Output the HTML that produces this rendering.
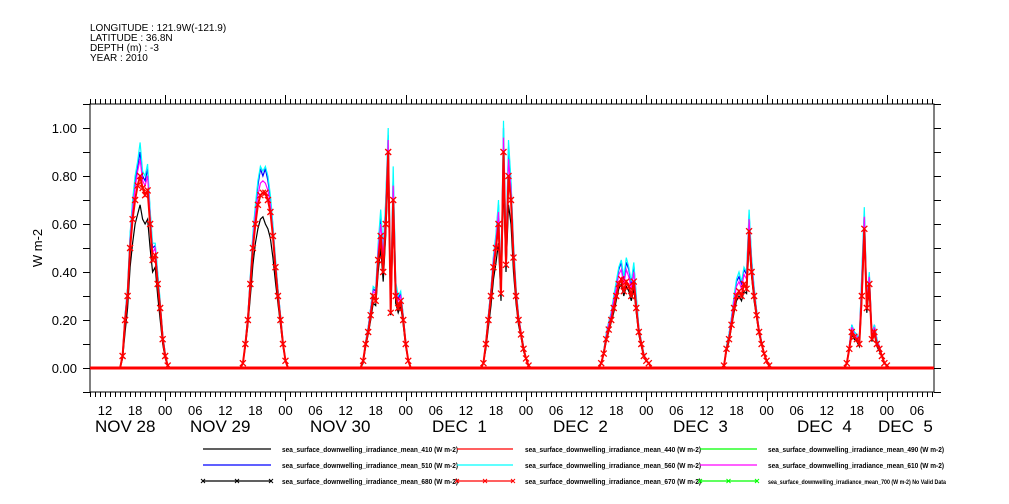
<!DOCTYPE html>
<html><head><meta charset="utf-8"><style>
body{margin:0;background:#fff;}
svg{display:block;font-family:"Liberation Sans",sans-serif;}
</style></head><body>
<svg id="chart" width="1009" height="504" viewBox="0 0 1009 504">
<g font-size="10" fill="#000">
<text x="90" y="31">LONGITUDE : 121.9W(-121.9)</text>
<text x="90" y="41">LATITUDE : 36.8N</text>
<text x="90" y="51">DEPTH (m) : -3</text>
<text x="90" y="61">YEAR : 2010</text>
</g>
<text x="0" y="0" transform="translate(42,248) rotate(-90)" text-anchor="middle" font-size="13">W m-2</text>
<g id="axes"></g>
<g id="series"></g>
<g id="legend"></g>
</svg>
<script>
const yTicks=[0,0.2,0.4,0.6,0.8,1.0];
const yTickLabels=["0.00","0.20","0.40","0.60","0.80","1.00"];
const dayLabels=["NOV 28","NOV 29","NOV 30","DEC  1","DEC  2","DEC  3","DEC  4","DEC  5"];
const dayLabelX=[95,190,310,432,553,673,797,878];
const dayWindowStartHour=14.5;
const axisStartHour=9;
const axisSpanHours=168.4;
const red670=[
0,0,0.05,0.2,0.3,0.5,0.62,0.7,0.76,0.8,0.75,0.72,0.74,0.6,0.45,0.47,0.35,0.25,0.12,0.05,0.01,0,0,
0,0,0.02,0.1,0.2,0.35,0.5,0.6,0.68,0.72,0.73,0.73,0.7,0.65,0.55,0.42,0.3,0.2,0.1,0.03,0,0,0,
0,0,0.03,0.1,0.15,0.22,0.3,0.28,0.45,0.55,0.4,0.6,0.9,0.23,0.7,0.3,0.25,0.28,0.2,0.1,0.03,0,0,
0,0,0.02,0.1,0.2,0.3,0.42,0.5,0.6,0.31,0.9,0.43,0.8,0.7,0.46,0.3,0.2,0.14,0.08,0.04,0.01,0,0,
0,0.02,0.06,0.12,0.16,0.2,0.25,0.3,0.35,0.37,0.32,0.36,0.34,0.3,0.36,0.25,0.15,0.1,0.05,0.03,0.02,0,0,
0,0,0.01,0.08,0.12,0.18,0.25,0.3,0.32,0.3,0.35,0.33,0.57,0.4,0.3,0.22,0.15,0.1,0.06,0.03,0.01,0,0,
0,0,0,0.02,0.08,0.15,0.13,0.12,0.1,0.3,0.58,0.25,0.35,0.12,0.15,0.1,0.08,0.05,0.02,0.01,0,0,0];
const cyan560=[
0,0,0.06,0.22,0.34,0.56,0.7,0.8,0.86,0.94,0.82,0.8,0.85,0.66,0.52,0.52,0.4,0.28,0.14,0.06,0.01,0,0,
0,0,0.02,0.11,0.22,0.39,0.56,0.68,0.78,0.84,0.82,0.84,0.8,0.72,0.6,0.46,0.33,0.22,0.11,0.03,0,0,0,
0,0,0.03,0.11,0.17,0.25,0.34,0.33,0.52,0.66,0.5,0.7,1.0,0.3,0.84,0.36,0.3,0.32,0.22,0.11,0.03,0,0,
0,0,0.02,0.11,0.22,0.33,0.47,0.56,0.7,0.36,1.03,0.5,0.95,0.78,0.52,0.34,0.22,0.15,0.09,0.04,0.01,0,0,
0,0.02,0.07,0.14,0.19,0.23,0.3,0.36,0.42,0.45,0.38,0.46,0.42,0.36,0.44,0.3,0.17,0.11,0.06,0.03,0.02,0,0,
0,0,0.01,0.09,0.14,0.21,0.3,0.37,0.4,0.36,0.42,0.4,0.66,0.46,0.34,0.24,0.16,0.11,0.06,0.03,0.01,0,0,
0,0,0,0.02,0.09,0.18,0.15,0.14,0.12,0.4,0.67,0.3,0.4,0.14,0.18,0.12,0.09,0.05,0.02,0.01,0,0,0];
const magenta610=[
0,0,0.05,0.21,0.32,0.53,0.66,0.75,0.82,0.87,0.78,0.76,0.8,0.63,0.48,0.5,0.37,0.26,0.13,0.05,0.01,0,0,
0,0,0.02,0.1,0.21,0.37,0.53,0.64,0.72,0.77,0.78,0.77,0.74,0.68,0.57,0.44,0.31,0.21,0.1,0.03,0,0,0,
0,0,0.03,0.1,0.16,0.24,0.32,0.31,0.49,0.6,0.46,0.65,0.95,0.27,0.76,0.33,0.28,0.3,0.21,0.1,0.03,0,0,
0,0,0.02,0.1,0.21,0.32,0.45,0.53,0.65,0.34,0.96,0.47,0.87,0.74,0.49,0.32,0.21,0.15,0.08,0.04,0.01,0,0,
0,0.02,0.06,0.13,0.18,0.22,0.28,0.33,0.39,0.41,0.35,0.41,0.38,0.33,0.4,0.27,0.16,0.1,0.05,0.03,0.02,0,0,
0,0,0.01,0.08,0.13,0.2,0.28,0.34,0.36,0.33,0.39,0.37,0.62,0.43,0.32,0.23,0.16,0.1,0.06,0.03,0.01,0,0,
0,0,0,0.02,0.09,0.17,0.14,0.13,0.11,0.36,0.63,0.28,0.38,0.13,0.17,0.11,0.09,0.05,0.02,0.01,0,0,0];
const blue510=[
0,0,0.06,0.22,0.33,0.55,0.69,0.78,0.84,0.9,0.8,0.78,0.83,0.65,0.5,0.51,0.39,0.27,0.14,0.06,0.01,0,0,
0,0,0.02,0.11,0.22,0.38,0.55,0.67,0.76,0.83,0.8,0.83,0.78,0.71,0.59,0.45,0.33,0.22,0.11,0.03,0,0,0,
0,0,0.03,0.11,0.17,0.25,0.33,0.32,0.5,0.63,0.48,0.68,0.97,0.29,0.8,0.35,0.29,0.31,0.22,0.11,0.03,0,0,
0,0,0.02,0.11,0.22,0.33,0.46,0.55,0.68,0.35,1.0,0.48,0.92,0.77,0.51,0.33,0.22,0.15,0.09,0.04,0.01,0,0,
0,0.02,0.07,0.14,0.19,0.23,0.29,0.35,0.41,0.44,0.37,0.44,0.41,0.35,0.43,0.29,0.17,0.11,0.06,0.03,0.02,0,0,
0,0,0.01,0.09,0.14,0.21,0.29,0.36,0.38,0.35,0.41,0.39,0.64,0.45,0.33,0.24,0.16,0.11,0.06,0.03,0.01,0,0,
0,0,0,0.02,0.09,0.18,0.15,0.14,0.12,0.38,0.65,0.29,0.39,0.14,0.18,0.12,0.09,0.05,0.02,0.01,0,0,0];
const black410=[
0,0,0.04,0.15,0.25,0.42,0.52,0.6,0.64,0.68,0.62,0.6,0.62,0.5,0.4,0.42,0.3,0.2,0.1,0.04,0.01,0,0,
0,0,0.02,0.09,0.18,0.3,0.43,0.52,0.58,0.62,0.63,0.6,0.58,0.54,0.46,0.36,0.27,0.18,0.09,0.03,0,0,0,
0,0,0.02,0.09,0.14,0.2,0.27,0.26,0.4,0.5,0.36,0.55,0.82,0.22,0.62,0.27,0.23,0.26,0.18,0.09,0.03,0,0,
0,0,0.02,0.08,0.17,0.26,0.37,0.44,0.52,0.28,0.78,0.4,0.68,0.6,0.4,0.27,0.18,0.13,0.07,0.04,0.01,0,0,
0,0.02,0.06,0.11,0.15,0.19,0.23,0.28,0.33,0.35,0.3,0.34,0.32,0.28,0.33,0.23,0.14,0.09,0.05,0.03,0.02,0,0,
0,0,0.01,0.07,0.11,0.17,0.23,0.28,0.3,0.28,0.32,0.31,0.52,0.38,0.28,0.21,0.14,0.1,0.06,0.03,0.01,0,0,
0,0,0,0.02,0.08,0.14,0.12,0.11,0.09,0.28,0.55,0.23,0.33,0.11,0.14,0.09,0.07,0.05,0.02,0.01,0,0,0];
const legendLabels=[
"sea_surface_downwelling_irradiance_mean_410 (W m-2)","sea_surface_downwelling_irradiance_mean_440 (W m-2)","sea_surface_downwelling_irradiance_mean_490 (W m-2)",
"sea_surface_downwelling_irradiance_mean_510 (W m-2)","sea_surface_downwelling_irradiance_mean_560 (W m-2)","sea_surface_downwelling_irradiance_mean_610 (W m-2)",
"sea_surface_downwelling_irradiance_mean_680 (W m-2)","sea_surface_downwelling_irradiance_mean_670 (W m-2)","sea_surface_downwelling_irradiance_mean_700 (W m-2) No Valid Data"];
const legendColors=["#000","#f00","#0f0","#00f","#0ff","#f0f","#000","#f00","#0f0"];

const NS="http://www.w3.org/2000/svg";
const L=90,R=934,T=104,B=392;
const X=t=>L+t*(R-L)/axisSpanHours;
const Y=v=>368-v*240;
function mk(tag,attrs,parent){const e=document.createElementNS(NS,tag);for(const k in attrs)e.setAttribute(k,attrs[k]);parent.appendChild(e);return e;}
const axes=document.getElementById('axes');
let e=mk('rect',{x:L,y:T,width:R-L,height:B-T,fill:'none',stroke:'#000','stroke-width':1},axes);


for(let v=-0.1;v<=1.101;v+=0.1){
 const y=Math.round(Y(v))+0.5;
 mk('line',{x1:L-7,x2:L,y1:y,y2:y,stroke:'#000'},axes);
 mk('line',{x1:R,x2:R+7,y1:y,y2:y,stroke:'#000'},axes);
}
yTicks.forEach((v,i)=>{
 const t=mk('text',{x:77,y:Y(v)+5,'text-anchor':'end','font-size':13},axes);
 t.textContent=yTickLabels[i];
 
 
});
for(let h=0;h<=axisSpanHours;h++){
 const x=Math.round(X(h))+0.5;
 const hod=(h+axisStartHour)%24;
 const big=hod===0;
 mk('line',{x1:x,x2:x,y1:T,y2:T-(big?9:5),stroke:'#000'},axes);
 mk('line',{x1:x,x2:x,y1:B,y2:B+(big?9:5),stroke:'#000'},axes);
 if(hod%6===0){
  const t=mk('text',{x:X(h),y:415,'text-anchor':'middle','font-size':13},axes);
  t.textContent=String(hod).padStart(2,'0');
  
  
 }
}
dayLabels.forEach((d,i)=>{
 const t=mk('text',{x:dayLabelX[i],y:432,'font-size':17},axes);
 t.setAttribute('style','white-space:pre');
 t.textContent=d;
 
 
});
const sg=document.getElementById('series');
function pts(arr){
 const p=[[X(0),Y(0)]];
 arr.forEach((v,i)=>{const d=Math.floor(i/23),k=i%23;const h=dayWindowStartHour-axisStartHour+24*d+0.5*k;p.push([X(h),Y(v)]);});
 p.push([X(axisSpanHours),Y(0)]);
 return p;
}
const seriesList=[[black410,'#000','series-410'],[blue510,'#00f','series-510'],[cyan560,'#0ff','series-560'],[magenta610,'#f0f','series-610'],[red670,'#f00','series-670']];
seriesList.forEach(([arr,c,n])=>{
 const p=pts(arr);
 const pl=mk('polyline',{points:p.map(q=>q[0].toFixed(1)+','+q[1].toFixed(1)).join(' '),fill:'none',stroke:c,'stroke-width':n==='series-670'?2:1.2},sg);
 
 
});
pts(red670).forEach((q,i)=>{
 if(i===0||q[1]>367.5)return;
 const m=mk('path',{d:`M${q[0]-3},${q[1]-3}L${q[0]+3},${q[1]+3}M${q[0]-3},${q[1]+3}L${q[0]+3},${q[1]-3}`,stroke:'#f00','stroke-width':1.3},sg);
 
 
});
mk('line',{x1:L,x2:R,y1:368,y2:368,stroke:'#f00','stroke-width':3},sg);
const lg=document.getElementById('legend');
const colLine=[[203,271,282],[457,513,525],[700,757,768]];
const rowY=[449,465,481];
legendLabels.forEach((lab,i)=>{
 const r=Math.floor(i/3),c=i%3;const [a,b,tx]=colLine[c];const y=rowY[r];
 const ln=mk('line',{x1:a,x2:b,y1:y,y2:y,stroke:legendColors[i],'stroke-width':1.3},lg);
 
 
 if(r===2){[a,(a+b)/2,b].forEach(x=>{mk('path',{d:`M${x-2},${y-2}L${x+2},${y+2}M${x-2},${y+2}L${x+2},${y-2}`,stroke:legendColors[i]},lg);});}
 const t=mk('text',{x:tx,y:y+3,'font-size':i===8?6:7.5,'font-weight':'bold',textLength:i===8?178:176,lengthAdjust:'spacingAndGlyphs'},lg);
 t.textContent=lab;
 
 
});
</script>
</body></html>
